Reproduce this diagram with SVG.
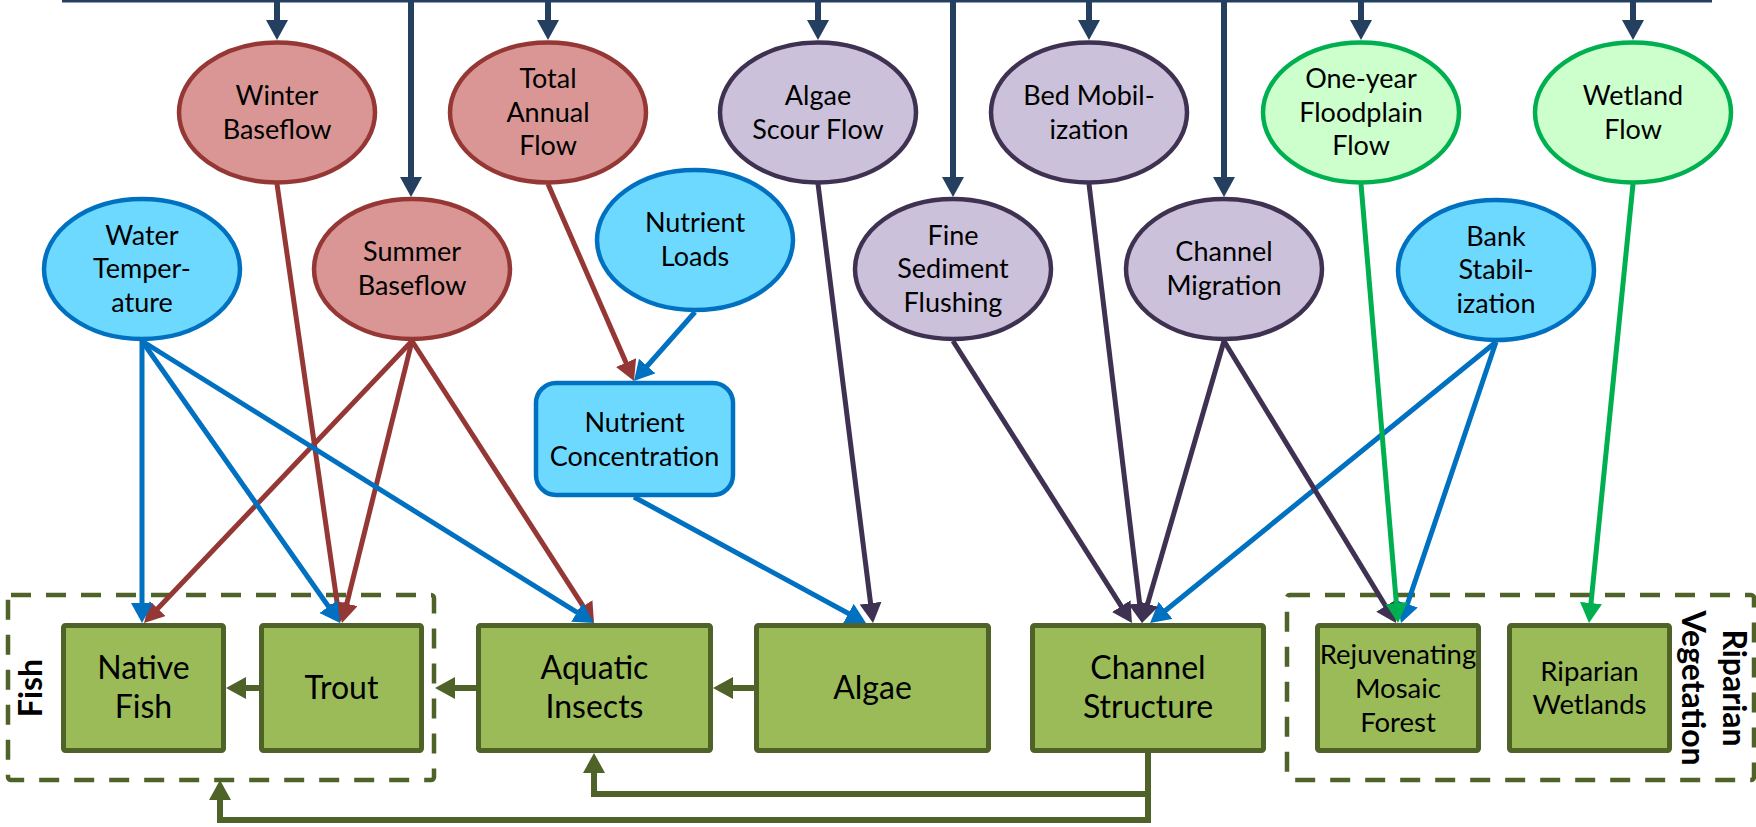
<svg xmlns="http://www.w3.org/2000/svg" width="1756" height="827" viewBox="0 0 1756 827">
<style>
.t{font-family:Lato,"Noto Sans","Liberation Sans",sans-serif;fill:#000;text-anchor:middle}
.e{font-size:27px}
.s{font-size:27.5px}
.b{font-size:32px}
.g{font-size:32px;font-weight:bold}
.red{fill:#D99694;stroke:#953735;stroke-width:4.5}
.pur{fill:#CCC1DA;stroke:#3F3151;stroke-width:4.5}
.blu{fill:#6DD9FF;stroke:#0070C0;stroke-width:4.5}
.grn{fill:#CCFFCC;stroke:#00B050;stroke-width:4.5}
.box{fill:#9BBB59;stroke:#4F6228;stroke-width:5}
.dash{fill:none;stroke:#4F6228;stroke-width:4.5;stroke-dasharray:20 15}
.c{fill:none;stroke-width:5}
.cr{stroke:#953735;marker-end:url(#aRed)}
.cb{stroke:#0070C0;marker-end:url(#aBlue)}
.cp{stroke:#3F3151;marker-end:url(#aPur)}
.cg{stroke:#00B050;marker-end:url(#aGrn)}
.cn{fill:none;stroke:#243F60;stroke-width:6;marker-end:url(#aNavy)}
.co{fill:none;stroke:#4F6228;stroke-width:6;marker-end:url(#aOl)}
</style>
<defs>
<marker id="aRed" markerUnits="userSpaceOnUse" viewBox="0 0 20 22" refX="10" refY="11" markerWidth="20" markerHeight="22" orient="auto"><path d="M0,0 L20,11 L0,22 z" fill="#953735"/></marker>
<marker id="aBlue" markerUnits="userSpaceOnUse" viewBox="0 0 20 22" refX="10" refY="11" markerWidth="20" markerHeight="22" orient="auto"><path d="M0,0 L20,11 L0,22 z" fill="#0070C0"/></marker>
<marker id="aPur" markerUnits="userSpaceOnUse" viewBox="0 0 20 22" refX="10" refY="11" markerWidth="20" markerHeight="22" orient="auto"><path d="M0,0 L20,11 L0,22 z" fill="#3F3151"/></marker>
<marker id="aGrn" markerUnits="userSpaceOnUse" viewBox="0 0 20 22" refX="10" refY="11" markerWidth="20" markerHeight="22" orient="auto"><path d="M0,0 L20,11 L0,22 z" fill="#00B050"/></marker>
<marker id="aNavy" markerUnits="userSpaceOnUse" viewBox="0 0 20 22" refX="10" refY="11" markerWidth="20" markerHeight="22" orient="auto"><path d="M0,0 L20,11 L0,22 z" fill="#243F60"/></marker>
<marker id="aOl" markerUnits="userSpaceOnUse" viewBox="0 0 20 22" refX="10" refY="11" markerWidth="20" markerHeight="22" orient="auto"><path d="M0,0 L20,11 L0,22 z" fill="#4F6228"/></marker>
</defs>
<rect width="1756" height="827" fill="#fff"/>

<g id="group-fish">
<rect class="dash" x="8" y="595" width="426" height="185" rx="3"/>
<text class="t g" transform="translate(42,688) rotate(-90)">Fish</text>
</g>
<g id="group-riparian">
<rect class="dash" x="1287" y="595" width="467" height="185" rx="3"/>
<text class="t g" transform="translate(1723,688) rotate(90)">Riparian</text>
<text class="t g" transform="translate(1682,688) rotate(90)">Vegetation</text>
</g>

<g id="winter-baseflow"><ellipse class="red" cx="277" cy="112.5" rx="98" ry="70"/><text class="t e" x="277" y="105">Winter</text><text class="t e" x="277" y="138.5">Baseflow</text></g>
<g id="total-annual-flow"><ellipse class="red" cx="548" cy="112.5" rx="98" ry="70"/><text class="t e" x="548" y="88">Total</text><text class="t e" x="548" y="121.5">Annual</text><text class="t e" x="548" y="155">Flow</text></g>
<g id="algae-scour-flow"><ellipse class="pur" cx="818" cy="112.5" rx="98" ry="70"/><text class="t e" x="818" y="105">Algae</text><text class="t e" x="818" y="138.5">Scour Flow</text></g>
<g id="bed-mobilization"><ellipse class="pur" cx="1089" cy="112.5" rx="98" ry="70"/><text class="t e" x="1089" y="105">Bed Mobil-</text><text class="t e" x="1089" y="138.5">ization</text></g>
<g id="one-year-floodplain-flow"><ellipse class="grn" cx="1361" cy="112.5" rx="98" ry="70"/><text class="t e" x="1361" y="88">One-year</text><text class="t e" x="1361" y="121.5">Floodplain</text><text class="t e" x="1361" y="155">Flow</text></g>
<g id="wetland-flow"><ellipse class="grn" cx="1633" cy="112.5" rx="98" ry="70"/><text class="t e" x="1633" y="105">Wetland</text><text class="t e" x="1633" y="138.5">Flow</text></g>

<g id="water-temperature"><ellipse class="blu" cx="142" cy="269" rx="98" ry="70"/><text class="t e" x="142" y="244.5">Water</text><text class="t e" x="142" y="278">Temper-</text><text class="t e" x="142" y="311.5">ature</text></g>
<g id="summer-baseflow"><ellipse class="red" cx="412" cy="269" rx="98" ry="70"/><text class="t e" x="412" y="261.25">Summer</text><text class="t e" x="412" y="294.75">Baseflow</text></g>
<g id="nutrient-loads"><ellipse class="blu" cx="695" cy="240" rx="98" ry="70"/><text class="t e" x="695" y="232.25">Nutrient</text><text class="t e" x="695" y="265.75">Loads</text></g>
<g id="fine-sediment-flushing"><ellipse class="pur" cx="953" cy="269" rx="98" ry="70"/><text class="t e" x="953" y="244.5">Fine</text><text class="t e" x="953" y="278">Sediment</text><text class="t e" x="953" y="311.5">Flushing</text></g>
<g id="channel-migration"><ellipse class="pur" cx="1224" cy="269" rx="98" ry="70"/><text class="t e" x="1224" y="261.25">Channel</text><text class="t e" x="1224" y="294.75">Migration</text></g>
<g id="bank-stabilization"><ellipse class="blu" cx="1496" cy="270" rx="98" ry="70"/><text class="t e" x="1496" y="245.5">Bank</text><text class="t e" x="1496" y="279">Stabil-</text><text class="t e" x="1496" y="312.5">ization</text></g>

<g id="nutrient-concentration"><rect class="blu" x="536" y="383" width="197" height="112" rx="20"/><text class="t e" x="634.5" y="432">Nutrient</text><text class="t e" x="634.5" y="466">Concentration</text></g>

<g id="native-fish"><rect class="box" x="63.5" y="625.5" width="160" height="125" rx="2"/><text class="t b" x="143.5" y="679">Native</text><text class="t b" x="143.5" y="718">Fish</text></g>
<g id="trout"><rect class="box" x="261.5" y="625.5" width="160" height="125" rx="2"/><text class="t b" x="341.5" y="699">Trout</text></g>
<g id="aquatic-insects"><rect class="box" x="478.5" y="625.5" width="232" height="125" rx="2"/><text class="t b" x="594.5" y="679">Aquatic</text><text class="t b" x="594.5" y="718">Insects</text></g>
<g id="algae"><rect class="box" x="756.5" y="625.5" width="232" height="125" rx="2"/><text class="t b" x="872.5" y="699">Algae</text></g>
<g id="channel-structure"><rect class="box" x="1032.5" y="625.5" width="231" height="125" rx="2"/><text class="t b" x="1148" y="679">Channel</text><text class="t b" x="1148" y="718">Structure</text></g>
<g id="rejuvenating-mosaic-forest"><rect class="box" x="1317.5" y="625.5" width="161" height="125" rx="2"/><text class="t s" x="1398" y="664">Rejuvenating</text><text class="t s" x="1398" y="698">Mosaic</text><text class="t s" x="1398" y="732">Forest</text></g>
<g id="riparian-wetlands"><rect class="box" x="1509.5" y="625.5" width="160" height="125" rx="2"/><text class="t s" x="1589.5" y="681">Riparian</text><text class="t s" x="1589.5" y="714">Wetlands</text></g>

<g id="connectors">
<line x1="62" y1="0" x2="1712" y2="0" stroke="#243F60" stroke-width="5"/>
<path class="cn" d="M277,0 V30"/>
<path class="cn" d="M411,0 V187"/>
<path class="cn" d="M548,0 V30"/>
<path class="cn" d="M818,0 V30"/>
<path class="cn" d="M953,0 V187"/>
<path class="cn" d="M1089,0 V30"/>
<path class="cn" d="M1224,0 V187"/>
<path class="cn" d="M1361,0 V30"/>
<path class="cn" d="M1633,0 V30"/>

<path class="c cr" d="M277,184 L338.6,613.1"/>
<path class="c cr" d="M412,341 L150.9,615.8"/>
<path class="c cr" d="M412,341 L344.4,613.3"/>
<path class="c cr" d="M412,341 L588.6,614.6"/>
<path class="c cr" d="M548,184 L630,371.8"/>

<path class="c cb" d="M142,341 L142,613"/>
<path class="c cb" d="M142,341 L334.3,614.8"/>
<path class="c cb" d="M142,341 L585.5,617.7"/>
<path class="c cb" d="M695,312 L640.6,373.5"/>
<path class="c cb" d="M634,497 L857.2,618.2"/>
<path class="c cb" d="M1496,342 L1157.8,616.7"/>
<path class="c cb" d="M1496,342 L1404.2,613.5"/>

<path class="c cp" d="M818,184 L871.8,613.1"/>
<path class="c cp" d="M953,341 L1126.6,614.6"/>
<path class="c cp" d="M1089,184 L1140.8,613.1"/>
<path class="c cp" d="M1224,341 L1144.8,613.4"/>
<path class="c cp" d="M1224,341 L1390.8,614.5"/>

<path class="c cg" d="M1361,184 L1397.2,613"/>
<path class="c cg" d="M1633,184 L1590,613"/>

<path class="co" d="M259,688 H236"/>
<path class="co" d="M476,688 H445"/>
<path class="co" d="M754,688 H723"/>
<path class="co" d="M1148,753 V794 H594 V763"/>
<path class="co" d="M1148,753 V820 H220 V790"/>
</g>
</svg>
